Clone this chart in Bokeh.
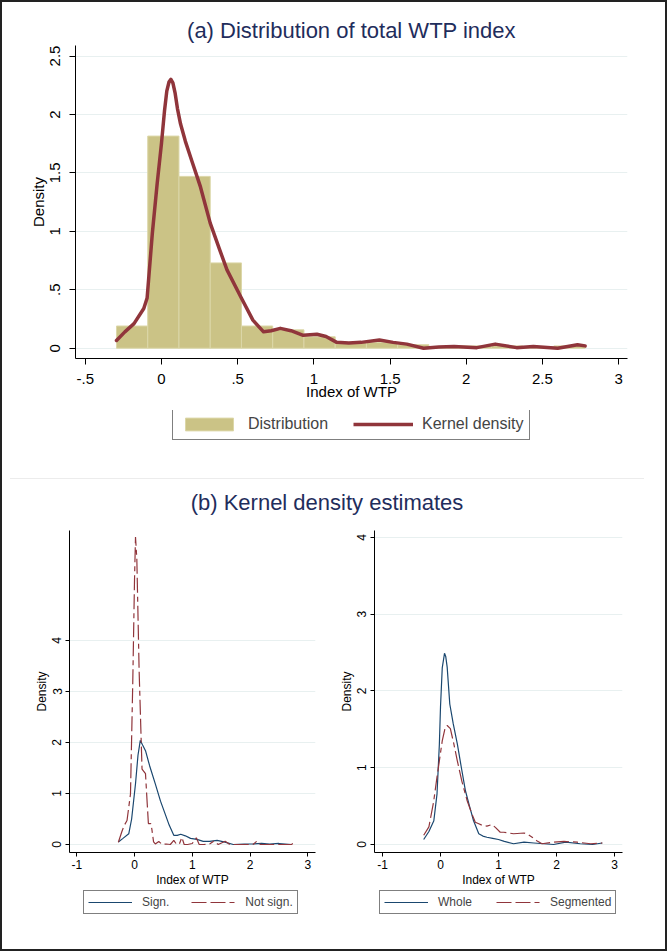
from bokeh.plotting import figure
from bokeh.models import FixedTicker, Legend, LegendItem, Range1d, Div
from bokeh.layouts import column, row
from bokeh.embed import file_html
from bokeh.resources import INLINE

FONT = "Liberation Sans"
NAVY = "#1f2d5c"
KHAKI = "#cbc386"
KHAKI_EDGE = "#dcd7a8"
MAROON = "#90353b"
BLUE = "#1a476f"
GRID = "#e8f0f0"
WHITE_BG = {"background-color": "white"}

# ---------------- data: panel (a) ----------------
bin_edges = [-0.295, -0.09, 0.115, 0.32, 0.525, 0.73, 0.935, 1.14, 1.345,
             1.55, 1.755, 1.96, 2.165, 2.37, 2.575, 2.78]
hist_density = [0.19, 1.815, 1.47, 0.73, 0.19, 0.157, 0.098, 0.05, 0.05,
                0.03, 0.01, 0.02, 0.02, 0.01, 0.02]

kd_x = [-0.295, -0.24, -0.18, -0.116, -0.094, -0.06, -0.028, 0.0, 0.02, 0.035,
        0.05, 0.062, 0.075, 0.09, 0.105, 0.125, 0.157, 0.2, 0.256, 0.32, 0.38,
        0.43, 0.52, 0.6, 0.67, 0.72, 0.78, 0.85, 0.93, 1.02, 1.08, 1.15, 1.23,
        1.31, 1.43, 1.52, 1.61, 1.72, 1.82, 1.92, 2.07, 2.19, 2.33, 2.44, 2.6,
        2.73, 2.78]
kd_y = [0.066, 0.14, 0.21, 0.34, 0.43, 0.98, 1.41, 1.75, 2.03, 2.2,
        2.28, 2.30, 2.27, 2.18, 2.05, 1.92, 1.77, 1.6, 1.38, 1.07, 0.85,
        0.67, 0.44, 0.24, 0.14, 0.15, 0.17, 0.15, 0.11, 0.12, 0.1, 0.05, 0.045,
        0.05, 0.07, 0.05, 0.035, 0.0, 0.01, 0.015, 0.005, 0.035, 0.005, 0.015, 0.0,
        0.03, 0.02]

a_xticks = [-0.5, 0, 0.5, 1, 1.5, 2, 2.5, 3]
a_xlabels = ["-.5", "0", ".5", "1", "1.5", "2", "2.5", "3"]
a_yticks = [0, 0.5, 1, 1.5, 2, 2.5]
a_ylabels = ["0", ".5", "1", "1.5", "2", "2.5"]

# ---------------- data: panel (b) ----------------
sign_x = [-0.28, -0.2, -0.1, -0.05, 0.017, 0.06, 0.1, 0.14, 0.19, 0.26, 0.36,
          0.45, 0.53, 0.6, 0.68, 0.74, 0.8, 0.88, 0.97, 1.08, 1.19, 1.3,
          1.43, 1.55, 1.71, 1.9, 2.06, 2.2, 2.34, 2.5, 2.72]
sign_y = [0.05, 0.12, 0.21, 0.5, 1.19, 1.75, 2.04, 1.95, 1.84, 1.55, 1.19,
          0.85, 0.6, 0.38, 0.18, 0.18, 0.2, 0.17, 0.12, 0.1, 0.06, 0.06,
          0.08, 0.05, 0.0, 0.01, 0.01, 0.02, 0.01, 0.02, 0.0]

nsign_x = [-0.28, -0.22, -0.18, -0.13, -0.07, -0.03, 0.0, 0.017, 0.04, 0.08,
           0.13, 0.19, 0.22, 0.24, 0.28, 0.3, 0.33, 0.36, 0.42, 0.48, 0.55,
           0.62, 0.68, 0.73, 0.78, 0.82, 0.86, 0.92, 1.0, 1.07, 1.12, 1.2,
           1.3, 1.37, 1.45, 1.57, 1.65, 1.8, 1.95, 2.05, 2.12, 2.18, 2.35,
           2.5, 2.65, 2.72, 2.78]
nsign_y = [0.045, 0.25, 0.37, 0.47, 0.99, 3.2, 5.2, 6.03, 5.6, 3.4, 1.48,
           1.39, 0.8, 0.41, 0.41, 0.3, 0.05, 0.01, 0.06, 0.0, 0.01, 0.0,
           0.08, 0.0, 0.02, 0.14, 0.0, 0.0, 0.02, 0.13, 0.0, 0.0, 0.01,
           0.065, 0.0, 0.065, 0.0, 0.0, 0.0, 0.0, 0.065, 0.0, 0.0, 0.0,
           0.0, 0.0, 0.065]

whole_x = [-0.29, -0.2, -0.115, -0.06, -0.02, 0.0, 0.03, 0.069, 0.09, 0.115,
           0.16, 0.22, 0.29, 0.36, 0.43, 0.5, 0.57, 0.66, 0.73, 0.8, 0.9,
           1.0, 1.1, 1.26, 1.44, 1.61, 1.78, 1.95, 2.16, 2.41, 2.62, 2.79]
whole_y = [0.065, 0.17, 0.31, 0.66, 1.3, 1.79, 2.3, 2.49, 2.45, 2.31, 1.83,
           1.57, 1.31, 1.0, 0.7, 0.5, 0.31, 0.14, 0.11, 0.095, 0.08, 0.065,
           0.04, 0.01, 0.03, 0.02, 0.01, 0.0, 0.03, 0.01, 0.0, 0.02]

seg_x = [-0.29, -0.2, -0.12, -0.06, 0.03, 0.08, 0.115, 0.17, 0.23, 0.29,
         0.37, 0.46, 0.53, 0.6, 0.66, 0.72, 0.8, 0.89, 0.95, 1.03, 1.09,
         1.26, 1.44, 1.51, 1.58, 1.66, 1.75, 1.95, 2.13, 2.36, 2.59, 2.79]
seg_y = [0.12, 0.23, 0.55, 0.88, 1.35, 1.52, 1.55, 1.51, 1.31, 1.09, 0.82,
         0.57, 0.42, 0.29, 0.27, 0.25, 0.24, 0.26, 0.22, 0.16, 0.16, 0.14,
         0.15, 0.13, 0.095, 0.05, 0.01, 0.03, 0.04, 0.03, 0.01, 0.02]

b_xticks = [-1, 0, 1, 2, 3]
b_xlabels = ["-1", "0", "1", "2", "3"]
b_yticks = [0, 1, 2, 3, 4]
b_ylabels = ["0", "1", "2", "3", "4"]

DASH = "15 4 15 4 5 4"


def style(p, xt, xl, yt, yl, tick_fs, lab_fs, tick_len, xso, xlso, yso, ylso):
    p.outline_line_color = None
    p.xgrid.visible = False
    p.xaxis.ticker = FixedTicker(ticks=xt)
    p.xaxis.major_label_overrides = {t: l for t, l in zip(xt, xl)}
    p.yaxis.ticker = FixedTicker(ticks=yt)
    p.yaxis.major_label_overrides = {t: l for t, l in zip(yt, yl)}
    p.ygrid.grid_line_color = GRID
    p.ygrid.grid_line_width = 1
    p.yaxis.major_label_orientation = "vertical"
    for ax in (p.xaxis, p.yaxis):
        ax.axis_line_color = "black"
        ax.axis_line_width = 1
        ax.major_tick_line_color = "black"
        ax.major_tick_out = tick_len
        ax.major_tick_in = 0
        ax.minor_tick_line_color = None
        ax.major_label_text_font = FONT
        ax.major_label_text_font_size = tick_fs
        ax.major_label_text_color = "black"
        ax.axis_label_text_font = FONT
        ax.axis_label_text_font_size = lab_fs
        ax.axis_label_text_font_style = "normal"
        ax.axis_label_text_color = "black"
    p.xaxis.major_label_standoff = xso
    p.xaxis.axis_label_standoff = xlso
    p.yaxis.major_label_standoff = yso
    p.yaxis.axis_label_standoff = ylso


def legend_fig(width, height):
    # legend strip; its ranges lie far from the data, so the proxy
    # renderers below only feed the legend swatches
    f = figure(width=width, height=height, output_backend="svg",
               toolbar_location=None, title=None,
               x_axis_location=None, y_axis_location=None,
               x_range=Range1d(100, 101), y_range=Range1d(100, 101),
               min_border=0, min_border_left=0, min_border_right=0,
               min_border_top=0, min_border_bottom=0, styles=WHITE_BG)
    f.outline_line_color = None
    f.grid.visible = False
    return f


def make_legend(items, loc, gw, gh, fs, standoff, spacing, padding):
    return Legend(items=items, orientation="horizontal", location=loc,
                  glyph_width=gw, glyph_height=gh, label_height=gh,
                  label_text_font=FONT, label_text_font_size=fs,
                  label_standoff=standoff, spacing=spacing, padding=padding,
                  margin=0, border_line_color="black", border_line_width=1,
                  background_fill_color="white", background_fill_alpha=1)


# ---------------- panel (a) ----------------
pa = figure(width=663, height=408, output_backend="svg", toolbar_location=None,
            x_range=Range1d(-0.564, 3.058), y_range=Range1d(-0.088, 2.59),
            min_border_left=73, min_border_right=38, min_border_top=43,
            min_border_bottom=52, styles=WHITE_BG)
pa.title.text = "(a) Distribution of total WTP index"
pa.title.align = "center"
pa.title.text_font = FONT
pa.title.text_font_size = "22px"
pa.title.text_font_style = "normal"
pa.title.text_color = NAVY
pa.title.standoff = 6
style(pa, a_xticks, a_xlabels, a_yticks, a_ylabels, "15px", "15px", 6,
      9, -4, 9, 1)
pa.xaxis.axis_label = "Index of WTP"
pa.yaxis.axis_label = "Density"

bars = pa.quad(left=bin_edges[:-1], right=bin_edges[1:], top=hist_density,
               bottom=0, fill_color=KHAKI, line_color=KHAKI_EDGE, line_width=1)
kline = pa.line(kd_x, kd_y, line_color=MAROON, line_width=3.5,
                line_join="round", line_cap="round")

# legend strip for (a)
la = legend_fig(663, 68)
la_bars = la.quad(left=bin_edges[:-1], right=bin_edges[1:], top=hist_density,
                  bottom=0, fill_color=KHAKI, line_color=KHAKI_EDGE,
                  line_width=1)
la_line = la.line(kd_x, kd_y, line_color=MAROON, line_width=3.5)
la.add_layout(make_legend([LegendItem(label="Distribution", renderers=[la_bars]),
                           LegendItem(label="Kernel density", renderers=[la_line])],
                          (97, 38), 60, 16, "16px", 9, 25, 6))

# ---------------- panel (b) title ----------------
pt = Div(width=663, height=42, margin=0,
         text=('<div style="margin-left:8px;width:634px;'
               'border-top:1px solid #ececec;padding-top:11px;'
               'text-align:center;font-family:\'Liberation Sans\';'
               'font-size:22px;line-height:26px;color:#1f2d5c;">'
               '(b) Kernel density estimates</div>'),
         styles={"overflow": "hidden", "background-color": "white"})

# ---------------- panel (b) left ----------------
pb1 = figure(width=331, height=370, output_backend="svg", toolbar_location=None,
             title=None,
             x_range=Range1d(-1.126, 3.134), y_range=Range1d(-0.157, 6.157),
             min_border_left=67, min_border_right=18, min_border_top=10,
             min_border_bottom=38, styles=WHITE_BG)
style(pb1, b_xticks, b_xlabels, b_yticks, b_ylabels, "12px", "12px", 4,
      3, 1, 4, 1)
pb1.xaxis.axis_label = "Index of WTP"
pb1.yaxis.axis_label = "Density"
pb1.line(sign_x, sign_y, line_color=BLUE, line_width=1.2)
pb1.line(nsign_x, nsign_y, line_color=MAROON, line_width=1.2, line_dash=DASH)

lb1 = legend_fig(331, 59)
l1a = lb1.line(sign_x, sign_y, line_color=BLUE, line_width=1.2)
l1b = lb1.line(nsign_x, nsign_y, line_color=MAROON, line_width=1.2,
               line_dash=DASH)
lb1.add_layout(make_legend([LegendItem(label="Sign.", renderers=[l1a]),
                            LegendItem(label="Not sign.", renderers=[l1b])],
                           (14, 35), 44, 14, "12px", 10, 22, 4))

# ---------------- panel (b) right ----------------
pb2 = figure(width=332, height=370, output_backend="svg", toolbar_location=None,
             title=None,
             x_range=Range1d(-1.138, 3.138), y_range=Range1d(-0.104, 4.09),
             min_border_left=41, min_border_right=43, min_border_top=10,
             min_border_bottom=38, styles=WHITE_BG)
style(pb2, b_xticks, b_xlabels, b_yticks, b_ylabels, "12px", "12px", 4,
      3, 1, 4, 1)
pb2.xaxis.axis_label = "Index of WTP"
pb2.yaxis.axis_label = "Density"
pb2.line(whole_x, whole_y, line_color=BLUE, line_width=1.2)
pb2.line(seg_x, seg_y, line_color=MAROON, line_width=1.2, line_dash=DASH)

lb2 = legend_fig(332, 59)
l2a = lb2.line(whole_x, whole_y, line_color=BLUE, line_width=1.2)
l2b = lb2.line(seg_x, seg_y, line_color=MAROON, line_width=1.2,
               line_dash=DASH)
lb2.add_layout(make_legend([LegendItem(label="Whole", renderers=[l2a]),
                            LegendItem(label="Segmented", renderers=[l2b])],
                           (5, 35), 44, 14, "12px", 10, 24, 4))

layout = column(pa, la, pt, row(column(pb1, lb1), column(pb2, lb2)),
                styles={"background-color": "#222", "padding": "2px"})

open("out.html", "w").write(file_html(layout, INLINE))
